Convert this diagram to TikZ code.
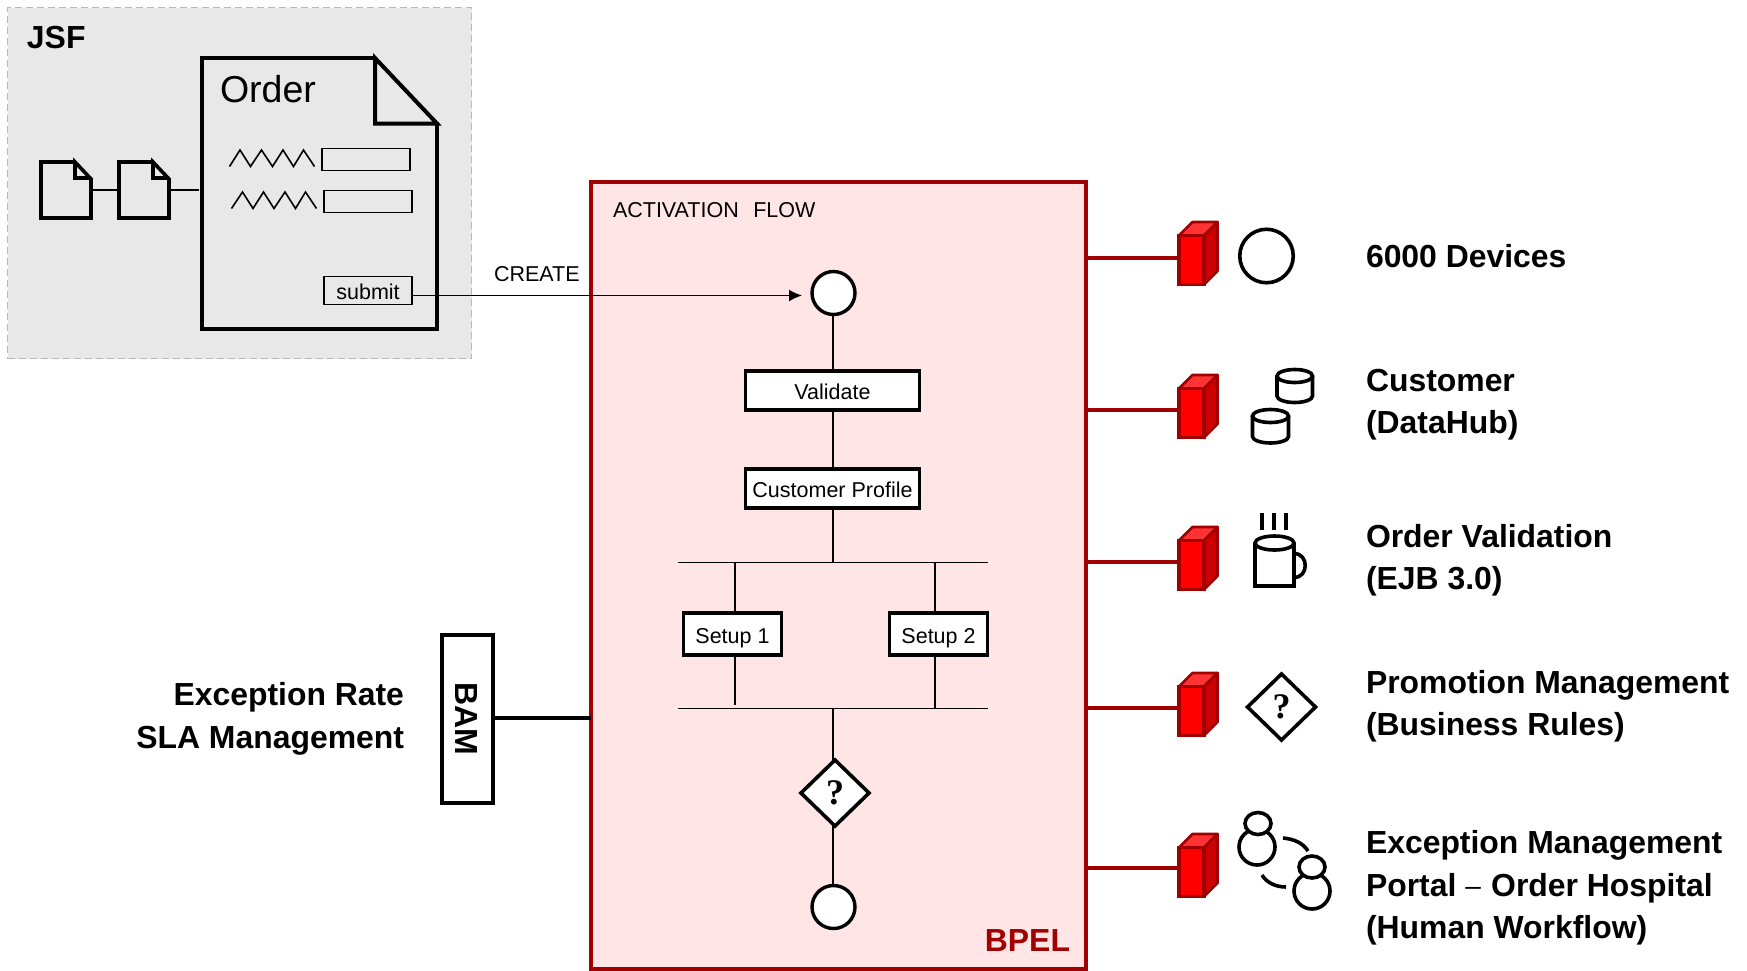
\documentclass[tikz,border=0pt]{standalone}
\usepackage{fontspec}
\setmainfont{Liberation Sans}
\newfontfamily\qfont{Liberation Serif}
\usetikzlibrary{arrows.meta,shapes.geometric}
\definecolor{bpelred}{HTML}{A00000}
\definecolor{bpelfill}{HTML}{FFE5E5}
\definecolor{jsfgray}{HTML}{E8E8E8}
\definecolor{jsfdash}{HTML}{B8B8B8}
\definecolor{cubetop}{HTML}{FF3333}
\definecolor{cubeside}{HTML}{CC0000}
\newcommand{\fs}[1]{\fontsize{#1}{#1}\selectfont}
\tikzset{
  every node/.style={outer sep=0pt},
  thinline/.style={line width=1.6pt,draw=black,line cap=butt},
  heavy/.style={line width=4pt,draw=black,line join=miter},
  doc/.style={line width=4pt,draw=black,line join=miter},
  smalldoc/.style={line width=3.6pt,draw=black,line join=miter},
  field/.style={rectangle,draw=black,line width=1.5pt,inner sep=0pt,anchor=north west},
  stepbox/.style={rectangle,draw=black,fill=white,line width=3.6pt,inner sep=0pt,font=\fs{21.5},text height=17.5pt,text depth=0pt,anchor=center},
  evt/.style={circle,draw=black,fill=white,line width=3.4pt,inner sep=0pt,minimum size=43pt},
  dec/.style={diamond,aspect=1,draw=black,fill=white,line width=3.6pt,inner sep=0pt,minimum width=68pt,minimum height=66pt,font=\qfont\bfseries\fs{36}},
  svc/.style={font=\bfseries\fs{31.9},anchor=base west,inner sep=0pt},
  lab/.style={font=\bfseries\fs{31.9},anchor=base east,inner sep=0pt},
  cubefront/.style={rectangle,fill=red,draw=bpelred,line width=3.4pt,inner sep=0pt,minimum width=25pt,minimum height=49pt,anchor=north west},
  wire/.style={line width=4pt,draw=bpelred},
  icon/.style={line width=3.6pt,draw=black},
}
\newcommand{\redcube}[3]{% name, x, y of the front's top left
  \filldraw[fill=cubetop,draw=bpelred,line width=2.6pt,line join=round] (#2,#3) -- ++(13.5,-13.5) -- ++(25,0) -- ++(-13.5,13.5) -- cycle;
  \filldraw[fill=cubeside,draw=bpelred,line width=2.6pt,line join=round] (#2+25,#3) -- ++(13.5,-13.5) -- ++(0,49) -- ++(-13.5,13.5) -- cycle;
  \node[cubefront] (#1) at (#2,#3) {};
}
\newcommand{\cyl}[4]{% x left, x right, top y, end of the straight sides y
  \draw[icon] (#1,#3) -- (#1,#4) arc[start angle=180,end angle=0,x radius={(#2-#1)/2},y radius=6.5] -- (#2,#3);
  \draw[icon] ({(#1+#2)/2},#3) ellipse[x radius={(#2-#1)/2},y radius=6.5];
}
\begin{document}
\begin{tikzpicture}[x=1pt,y=-1pt]
\useasboundingbox (0,0) rectangle (1747,970);
% JSF panel
\node[rectangle,draw=jsfdash,fill=jsfgray,dash pattern=on 7pt off 4pt,line width=1.8pt,minimum width=464pt,minimum height=351pt,inner sep=0pt,anchor=north west] (jsf) at (7.5,7.5) {};
\node[font=\bfseries\fs{31.9},anchor=base west,inner sep=0pt] (jsft) at (27,48) {JSF};
% Order page
\draw[doc] (375,58) -- (202,58) -- (202,329) -- (437,329) -- (437,125);
\draw[doc] (375,58) -- (375,123.5) -- (437,123.5) -- cycle;
\node[font=\fs{37.5},anchor=base west,inner sep=0pt] (ordert) at (220,102) {Order};
\draw[line width=1.6pt] (229.5,166.5) -- (240,150) -- (250.5,166.5) -- (261.5,150) -- (272.5,166.5) -- (283,150) -- (293.5,166.5) -- (303.5,150) -- (314.5,166.5);
\draw[line width=1.6pt] (231.5,208.5) -- (242.5,192) -- (253,208.5) -- (263.5,192) -- (274,208.5) -- (285,192) -- (295.5,208.5) -- (305.5,192) -- (316.5,208.5);
\node[field,minimum width=88pt,minimum height=22pt] (f1) at (322,148.5) {};
\node[field,minimum width=88pt,minimum height=22pt] (f2) at (324,190.5) {};
\node[field,minimum width=88pt,minimum height=28pt,font=\fs{21.5},text height=18.5pt,text depth=0pt] (submit) at (324,276.5) {submit};
% Small pages
\draw[smalldoc] (75,162) -- (41,162) -- (41,218) -- (91,218) -- (91,179) -- (75,162) -- (75,178) -- (91,178);
\draw[smalldoc] (153,162) -- (119,162) -- (119,218) -- (169,218) -- (169,179) -- (153,162) -- (153,178) -- (169,178);
\coordinate (p1r) at (91,190);
\coordinate (p2l) at (119,190);
\coordinate (p2r) at (171,190);
\coordinate (ordl) at (199,190);
\draw[thinline] (p1r) -- (p2l);
\draw[thinline] (p2r) -- (ordl);
% BPEL panel
\node[rectangle,draw=bpelred,fill=bpelfill,line width=3.6pt,minimum width=495pt,minimum height=787pt,inner sep=0pt,anchor=north west] (bpel) at (591,182) {};
\node[font=\fs{21.5},anchor=base west,inner sep=0pt] (flowt) at (613,217) {ACTIVATION\hspace{14.5pt}FLOW};
\node[font=\bfseries\fs{31.9},text=bpelred,anchor=base east,inner sep=0pt] (bpelt) at (1070,951) {BPEL};
% Flow
\node[evt] (start) at (833.5,293) {};
\node[stepbox,minimum width=174pt,minimum height=39pt] (val) at (832.5,390.5) {Validate};
\node[stepbox,minimum width=174pt,minimum height=39pt] (prof) at (832.5,488.5) {Customer Profile};
\node[stepbox,minimum width=98pt,minimum height=42pt,text height=19.5pt] (s1) at (732.5,634) {Setup 1};
\node[stepbox,minimum width=98pt,minimum height=42pt,text height=19.5pt] (s2) at (938.5,634) {Setup 2};
\node[dec] (decq) at (835,793) {?};
\node[evt] (finish) at (833.5,907) {};
\coordinate (bar1l) at (678,562.5);
\coordinate (bar1r) at (988,562.5);
\coordinate (bar1m) at (833,562.5);
\coordinate (bar2l) at (678,708.5);
\coordinate (bar2r) at (988,708.5);
\coordinate (bar2m) at (833,708.5);
\coordinate (s1t) at (735,562.5);
\coordinate (s2t) at (935,562.5);
\coordinate (s1b) at (735,705);
\coordinate (s2b) at (935,708.5);
\draw[thinline] (bar1l) -- (bar1r);
\draw[thinline] (bar2l) -- (bar2r);
\draw[thinline] (bar1m |- start.south) -- (bar1m |- val.north);
\draw[thinline] (bar1m |- val.south) -- (bar1m |- prof.north);
\draw[thinline] (bar1m |- prof.south) -- (bar1m);
\draw[thinline] (s1t) -- (s1t |- s1.north);
\draw[thinline] (s2t) -- (s2t |- s2.north);
\draw[thinline] (s1t |- s1.south) -- (s1b);
\draw[thinline] (s2t |- s2.south) -- (s2b);
\draw[thinline] (bar2m) -- (bar2m |- decq.north);
\draw[thinline] (bar2m |- decq.south) -- (bar2m |- finish.north);
% Submit arrow
\coordinate (arrowend) at (802,295.5);
\node[font=\fs{21.5},anchor=base west,inner sep=0pt] (createt) at (494,281) {CREATE};
\draw[thinline,-{Latex[length=13pt,width=12pt]}] (submit.east |- arrowend) -- (arrowend);
% BAM
\node[rectangle,draw=black,fill=white,line width=3.6pt,minimum width=51pt,minimum height=168pt,inner sep=0pt,anchor=north west] (bam) at (442,635) {};
\node[rotate=-90,font=\bfseries\fs{32}] (bamt) at (467,718.5) {BAM};
\coordinate (baml) at (493,717.5);
\draw[heavy] (baml) -- (bpel.west |- baml);
\node[lab] (ex1) at (404,705.5) {Exception Rate};
\node[lab] (ex2) at (404,748) {SLA Management};
% Connector blocks
\redcube{c1}{1179}{235.5}
\redcube{c2}{1179}{388.5}
\redcube{c3}{1179}{540.5}
\redcube{c4}{1179}{686.5}
\redcube{c5}{1179}{847.5}
\coordinate (l1) at (1179,257.5);
\coordinate (l2) at (1179,409.5);
\coordinate (l3) at (1179,561.5);
\coordinate (l4) at (1179,707.5);
\coordinate (l5) at (1179,867.5);
\draw[wire] (bpel.east |- l1) -- (l1);
\draw[wire] (bpel.east |- l2) -- (l2);
\draw[wire] (bpel.east |- l3) -- (l3);
\draw[wire] (bpel.east |- l4) -- (l4);
\draw[wire] (bpel.east |- l5) -- (l5);
% Icons
\node[circle,icon,minimum size=53.5pt,inner sep=0pt] (dev) at (1266.5,256) {};
\cyl{1277}{1312.5}{376}{396}
\cyl{1252.5}{1288.5}{416}{436.5}
\draw[icon] (1262,513) -- (1262,530);
\draw[icon] (1274,513) -- (1274,530);
\draw[icon] (1286,513) -- (1286,530);
\draw[icon] (1255,543) -- (1255,586) -- (1294,586) -- (1294,543);
\draw[icon] (1274.5,543) ellipse[x radius=19.5,y radius=7];
\draw[icon] (1294,553.5) .. controls (1309,553.5) and (1309,577.5) .. (1294,577.5);
\node[dec,fill=none] (rules) at (1281.5,707) {?};
\draw[icon] (1257,847) circle[radius=18];
\draw[icon,fill=white] (1258,823.5) ellipse[x radius=13,y radius=11];
\draw[icon] (1312,891) circle[radius=18];
\draw[icon,fill=white] (1312,867) ellipse[x radius=13,y radius=11];
\draw[icon] (1283,838) .. controls (1294,839) and (1303,843) .. (1308,851);
\draw[icon] (1262,875) .. controls (1266,882) and (1275,887) .. (1286,887);
% Service labels
\node[svc] (t1) at (1366,267.5) {6000 Devices};
\node[svc] (t2a) at (1366,391.5) {Customer};
\node[svc] (t2b) at (1366,433.5) {(DataHub)};
\node[svc] (t3a) at (1366,547.5) {Order Validation};
\node[svc] (t3b) at (1366,589.5) {(EJB 3.0)};
\node[svc] (t4a) at (1366,693.5) {Promotion Management};
\node[svc] (t4b) at (1366,735.5) {(Business Rules)};
\node[svc] (t5a) at (1366,853.5) {Exception Management};
\node[svc] (t5b) at (1366,896) {Portal {\fs{28}\mdseries\raisebox{1pt}{–}}\hspace{1.5pt} Order Hospital};
\node[svc] (t5c) at (1366,938) {(Human Workflow)};
\end{tikzpicture}
\end{document}
